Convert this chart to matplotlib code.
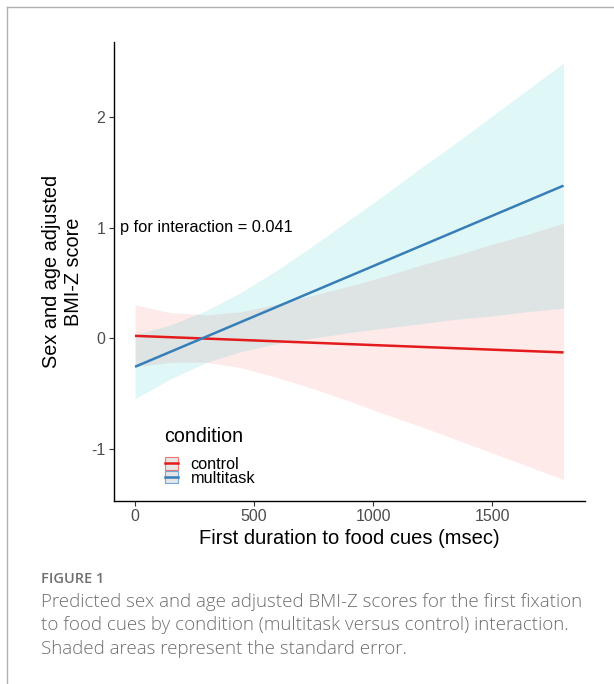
import matplotlib
matplotlib.use("Agg")
import matplotlib.pyplot as plt
from matplotlib.lines import Line2D
from matplotlib.patches import Patch

# predicted lines (endpoints of the straight fits)
line_x = [0, 1800]
control_line = [0.02, -0.13]
multitask_line = [-0.26, 1.38]

# standard-error ribbons
ribbon_x = [0, 150, 300, 450, 600, 750, 900, 1050, 1200, 1350, 1500, 1650, 1800]
control_upper = [0.30, 0.23, 0.21, 0.24, 0.31, 0.39, 0.47, 0.56, 0.66, 0.75, 0.85, 0.94, 1.04]
control_lower = [-0.26, -0.22, -0.22, -0.27, -0.36, -0.46, -0.57, -0.69, -0.80, -0.92, -1.04, -1.16, -1.28]
multitask_upper = [0.03, 0.12, 0.25, 0.42, 0.62, 0.84, 1.07, 1.30, 1.54, 1.77, 2.01, 2.25, 2.49]
multitask_lower = [-0.55, -0.37, -0.22, -0.12, -0.05, 0.00, 0.05, 0.09, 0.13, 0.17, 0.20, 0.24, 0.27]

x_ticks = [0, 500, 1000, 1500]
y_ticks = [-1, 0, 1, 2]

W, H = 614, 684
FONT = ["Liberation Sans", "DejaVu Sans"]
plt.rcParams["font.family"] = FONT

fig = plt.figure(figsize=(W / 100, H / 100), dpi=100)
fig.patch.set_facecolor("white")


def fx(px):
    return px / W


def fy(py):
    return 1 - py / H


AX_L, AX_R, AX_T, AX_B = 113.6, 585, 42, 501


def ax_frac(px, py):
    return (px - AX_L) / (AX_R - AX_L), (AX_B - py) / (AX_B - AX_T)


ax = fig.add_axes([fx(AX_L), fy(AX_B), fx(AX_R) - fx(AX_L), fy(AX_T) - fy(AX_B)])

ax.fill_between(ribbon_x, control_lower, control_upper, color="#F8766D", alpha=0.15, linewidth=0)
ax.fill_between(ribbon_x, multitask_lower, multitask_upper, color="#00BFC4", alpha=0.12, linewidth=0)
ax.plot(line_x, control_line, color="#E41A1C", linewidth=1.8, solid_capstyle="butt")
ax.plot(line_x, multitask_line, color="#377EB8", linewidth=1.8, solid_capstyle="butt")

ax.set_xlim(-90, 1890)
ax.set_ylim(-1.475, 2.68)
ax.set_xticks(x_ticks)
ax.set_yticks(y_ticks)
ax.set_yticklabels([str(v) for v in y_ticks])
ax.tick_params(colors="#333333", labelcolor="#4D4D4D", labelsize=11.5, length=3.5, width=0.8, pad=2.5)
for side in ["top", "right"]:
    ax.spines[side].set_visible(False)
for side in ["left", "bottom"]:
    ax.spines[side].set_linewidth(1.0)
    ax.spines[side].set_color("black")
ax.set_facecolor("white")

ax.set_xlabel("First duration to food cues (msec)", fontsize=14.5, labelpad=3.5)
ax.set_ylabel("Sex and age adjusted\nBMI-Z score", fontsize=14.3, labelpad=6, linespacing=1.15)

ax.text(-63, 1.0, "p for interaction = 0.041", fontsize=11.8, va="center", ha="left")

# legend: title drawn as plain text, keys below it
tx, ty = ax_frac(164, 437)
ax.text(tx, ty, "condition", fontsize=14.1, transform=ax.transAxes, va="center", ha="left")

handles = [
    (Patch(facecolor="#E6E6E6", edgecolor="#F8766D", linewidth=0.8),
     Line2D([], [], color="#E41A1C", linewidth=1.8)),
    (Patch(facecolor="#E6E6E6", edgecolor="#6FA8D6", linewidth=0.8),
     Line2D([], [], color="#377EB8", linewidth=1.8)),
]
ax.legend(handles, ["control", "multitask"], loc="upper left",
          bbox_to_anchor=ax_frac(165, 457),
          frameon=False, fontsize=11.7, handlelength=0.82, handleheight=0.8,
          handletextpad=0.75, labelspacing=-0.08, borderpad=0, borderaxespad=0)

# frame of the figure panel
fig.add_artist(Line2D([fx(7), 1], [fy(7), fy(7)], color="#B0B0B0", linewidth=1))
fig.add_artist(Line2D([fx(7), fx(7)], [fy(7), 0], color="#B0B0B0", linewidth=1))

cap_font = ["Open Sans", "DejaVu Sans"]
fig.text(fx(41), fy(579), "FIGURE 1", fontsize=10.5, color="#707070", fontweight="semibold",
         family=cap_font, va="center")
caption = ["Predicted sex and age adjusted BMI-Z scores for the first fixation",
           "to food cues by condition (multitask versus control) interaction.",
           "Shaded areas represent the standard error."]
for i, line in enumerate(caption):
    fig.text(fx(41), fy(602 + 23.5 * i), line, fontsize=13.5, color="#6E6E6E", family=cap_font,
             va="center", fontweight="light")

fig.savefig("out.png", dpi=100)
